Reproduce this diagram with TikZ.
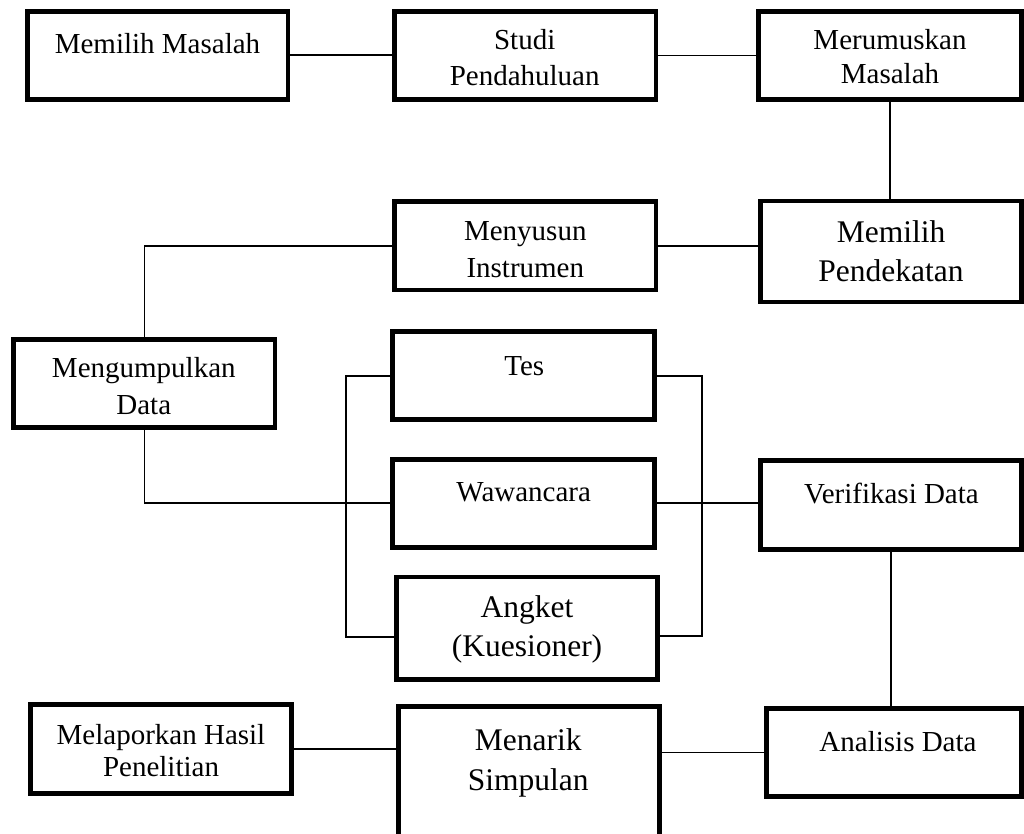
\documentclass[tikz,border=0pt]{standalone}
\usepackage{fontspec}
\setmainfont{Liberation Serif}
\usepackage{tikz}
\usetikzlibrary{positioning}

\tikzset{
    stepbox/.style={draw, line width=4.8pt, inner sep=0pt},
    steptext/.style={align=center, anchor=base, inner sep=0pt, font=\fontsize{29}{36}\selectfont},
    bigtext/.style={steptext, font=\fontsize{31.5}{39.4}\selectfont},
    link/.style={line width=1.8pt}
}

\begin{document}
\begin{tikzpicture}[x=1pt, y=-1pt]
                \useasboundingbox (0,0) rectangle (1024,834);
                \clip (0,0) rectangle (1024,834);

                \node[stepbox, minimum width=260.5pt, minimum height=88pt] (mm) at (157.8,55.2) {};
                \node[stepbox, minimum width=261.5pt, minimum height=88.2pt] (sp) at (525.3,55.6) {};
                \node[stepbox, minimum width=263pt, minimum height=88.2pt] (rm) at (890,55.6) {};
                \node[stepbox, minimum width=260.7pt, minimum height=101pt] (mp) at (891.2,251.5) {};
                \node[stepbox, minimum width=261.5pt, minimum height=88.3pt] (si) at (525.3,245.9) {};
                \node[stepbox, minimum width=261.2pt, minimum height=88.3pt] (md) at (144.4,383.4) {};
                \node[stepbox, minimum width=261.4pt, minimum height=88.3pt] (ts) at (523.5,375.7) {};
                \node[stepbox, minimum width=261.4pt, minimum height=88.3pt] (ww) at (523.5,503.3) {};
                \node[stepbox, minimum width=261pt, minimum height=102.8pt] (ak) at (527,628.4) {};
                \node[stepbox, minimum width=260.7pt, minimum height=88.4pt] (vd) at (891.2,505) {};
                \node[stepbox, minimum width=260.4pt, minimum height=88.4pt] (ml) at (161,749) {};
                \node[stepbox, minimum width=261pt, minimum height=143.2pt] (ms) at (528.7,778.4) {};
                \node[stepbox, minimum width=254.7pt, minimum height=88.4pt] (ad) at (894.2,752.4) {};

                \node[steptext] (mm-t) at (157.5,54) {Memilih Masalah};
                \node[steptext] (sp-t) at (524.7,86) {Studi\\Pendahuluan};
                \node[steptext, font=\fontsize{29}{33.3}\selectfont] (rm-t) at (890,83.3) {Merumuskan\\Masalah};
                \node[bigtext, font=\fontsize{31.5}{39}\selectfont] (mp-t) at (891,281.7) {Memilih\\Pendekatan};
                \node[steptext, font=\fontsize{29}{36.6}\selectfont] (si-t) at (525.3,277.3) {Menyusun\\Instrumen};
                \node[steptext, font=\fontsize{29}{36.6}\selectfont] (md-t) at (143.8,414.3) {Mengumpulkan\\Data};
                \node[steptext] (ts-t) at (524.2,375) {Tes};
                \node[steptext] (ww-t) at (523.7,501.7) {Wawancara};
                \node[bigtext] (ak-t) at (527,656.7) {Angket\\(Kuesioner)};
                \node[steptext] (vd-t) at (891.4,503.3) {Verifikasi Data};
                \node[steptext, font=\fontsize{29}{32.4}\selectfont] (ml-t) at (161,776.7) {Melaporkan Hasil\\Penelitian};
                \node[bigtext, font=\fontsize{31.5}{40}\selectfont] (ms-t) at (528.3,790.7) {Menarik\\Simpulan};
                \node[steptext] (ad-t) at (898,751.7) {Analisis Data};

                \coordinate (lb) at (346,637.3);
                \coordinate (rb) at (702.3,635.7);

                \draw[link] (mm.east) -- (mm.east -| sp.west);
                \draw[link] (sp.east) -- (sp.east -| rm.west);
                \draw[link] (rm.south) -- (rm.south |- mp.north);
                \draw[link] (si.east) -- (si.east -| mp.west);
                \draw[link] (si.west) -| (md.north);
                \draw[link] (md.south) |- (ww.west);
                \draw[link] (ts.west) -| (lb) -- (lb -| ak.west);
                \draw[link] (ts.east) -| (rb) -- (rb -| ak.east);
                \draw[link] (ww.east) -- (ww.east -| vd.west);
                \draw[link] (vd.south) -- (vd.south |- ad.north);
                \draw[link] (ad.west) -- (ad.west -| ms.east);
                \draw[link] (ml.east) -- (ml.east -| ms.west);
            \end{tikzpicture}
\end{document}
